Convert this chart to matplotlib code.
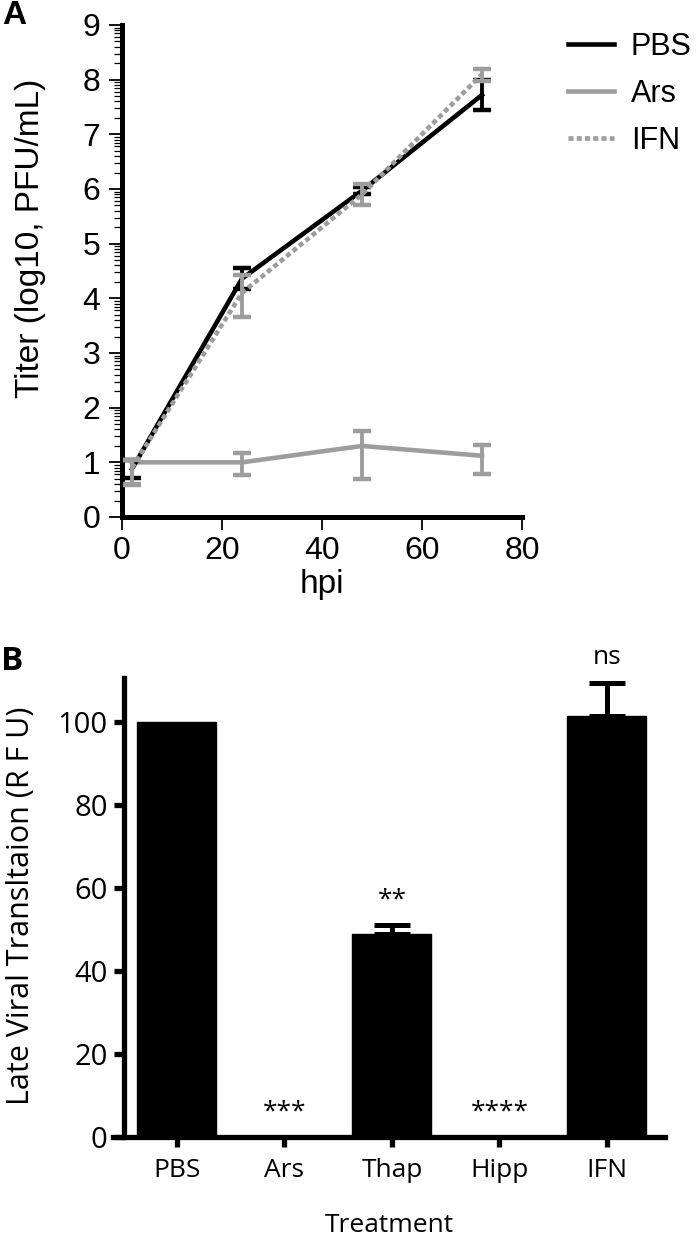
import numpy as np
import matplotlib
matplotlib.use("Agg")
import matplotlib.pyplot as plt
from matplotlib.lines import Line2D
from matplotlib.ticker import FixedLocator

# ---------------- data ----------------
# Panel A: virus growth curves
hpi = [2, 24, 48, 72]
pbs_mean = [0.88, 4.36, 5.97, 7.72]
pbs_low = [0.72, 4.17, 5.90, 7.45]
pbs_high = [1.04, 4.55, 6.03, 8.00]
ars_mean = [1.00, 1.00, 1.30, 1.12]
ars_low = [0.58, 0.76, 0.69, 0.79]
ars_high = [1.05, 1.17, 1.57, 1.31]
ifn_mean = [0.90, 4.10, 5.90, 8.10]
ifn_low = [0.60, 3.65, 5.70, 7.98]
ifn_high = [1.05, 4.42, 6.10, 8.20]
a_xticks = [0, 20, 40, 60, 80]
a_yticks = [0, 1, 2, 3, 4, 5, 6, 7, 8, 9]

# Panel B: late viral translation
treatments = ["PBS", "Ars", "Thap", "Hipp", "IFN"]
rfu = [100.0, 0.0, 48.8, 0.0, 101.5]
rfu_err = [0.0, 0.0, 2.3, 0.0, 8.0]
significance = ["", "***", "**", "****", "ns"]
b_yticks = [0, 20, 40, 60, 80, 100]

GRAY = "#9d9d9d"
W, H = 700, 1236
fig = plt.figure(figsize=(W / 100, H / 100), dpi=100)

ARIAL = ["Liberation Sans", "DejaVu Sans"]
MYRIAD = ["Open Sans", "DejaVu Sans"]

# ---------------- Panel A ----------------
axA = fig.add_axes([122 / W, (H - 517) / H, 400 / W, (517 - 25) / H])
lw = 3.3


def err(mean, low, high):
    m = np.array(mean); return [m - np.array(low), np.array(high) - m]


axA.errorbar(hpi, ars_mean, yerr=err(ars_mean, ars_low, ars_high), color=GRAY,
             lw=lw, elinewidth=2.8, capsize=6.5, capthick=3.2, clip_on=False, zorder=3)
axA.errorbar(hpi, pbs_mean, yerr=err(pbs_mean, pbs_low, pbs_high), color="black",
             lw=lw, elinewidth=2.8, capsize=6.5, capthick=3.2, clip_on=False, zorder=4)
eb = axA.errorbar(hpi, ifn_mean, yerr=err(ifn_mean, ifn_low, ifn_high), color=GRAY,
                  lw=lw, elinewidth=2.8, capsize=6.5, capthick=3.2, clip_on=False, zorder=5,
                  linestyle=(0, (1.1, 0.7)))
eb[0].set_dash_capstyle("butt")

axA.set_xlim(0, 80)
axA.set_ylim(0, 9)
axA.set_xticks(a_xticks)
axA.set_yticks(a_yticks)
minor = [n + np.log10(k) for n in range(9) for k in range(2, 10)]
axA.yaxis.set_minor_locator(FixedLocator(minor))
for s in ["top", "right"]:
    axA.spines[s].set_visible(False)
for s in ["left", "bottom"]:
    axA.spines[s].set_linewidth(3.6)
axA.tick_params(axis="both", which="major", direction="out", length=9.5, width=1.3,
                labelsize=23, pad=4)
axA.tick_params(axis="y", which="major", pad=6)
axA.tick_params(axis="y", which="minor", direction="out", length=5.5, width=0.9)
for lab in axA.get_xticklabels() + axA.get_yticklabels():
    lab.set_fontfamily(ARIAL)
axA.set_ylabel("Titer (log10, PFU/mL)", fontsize=24, family=ARIAL)
axA.yaxis.set_label_coords(-0.19, 0.567)
axA.set_xlabel("hpi", fontsize=24, family=ARIAL)
axA.xaxis.set_label_coords(0.5, -0.105)

handles = [Line2D([], [], color="black", lw=lw),
           Line2D([], [], color=GRAY, lw=lw),
           Line2D([], [], color=GRAY, lw=lw, linestyle=(0, (1.1, 0.7)))]
leg = fig.legend(handles, ["PBS", "Ars", "IFN"], loc="upper left",
                 bbox_to_anchor=(568 / W, 1 - 32 / H), frameon=False,
                 prop={"family": ARIAL, "size": 22}, handlelength=1.5,
                 handletextpad=0.55, labelspacing=0.55, borderpad=0, borderaxespad=0)

fig.text(2 / W, 1 - 15 / H, "A", fontsize=24, fontweight="bold", va="center", ha="left",
         family=["Liberation Sans Narrow", "Liberation Sans", "DejaVu Sans"])

# ---------------- Panel B ----------------
axB = fig.add_axes([113 / W, (H - 1137) / H, (665 - 113) / W, (1137 - 678) / H])
xpos = np.arange(len(treatments))
axB.bar(xpos, rfu, width=0.735, color="black", edgecolor="black", lw=1, zorder=2)
for x, v, e in zip(xpos, rfu, rfu_err):
    if e > 0:
        axB.errorbar([x], [v], yerr=[[0], [e]], color="black", elinewidth=3.6,
                     capsize=13, capthick=3.6, fmt="none", zorder=3, clip_on=False)
for x, v, e, s in zip(xpos, rfu, rfu_err, significance):
    if s:
        axB.text(x, v + e + 4.5, s, ha="center", va="baseline", fontsize=19,
                 family=MYRIAD, clip_on=False)

axB.set_xlim(-0.595, 4.54)
axB.set_ylim(0, 110.6)
axB.set_xticks(xpos)
axB.set_xticklabels(treatments)
axB.set_yticks(b_yticks)
for s in ["top", "right"]:
    axB.spines[s].set_visible(False)
axB.spines["left"].set_position(("data", -0.49))
for s in ["left", "bottom"]:
    axB.spines[s].set_linewidth(3.8)
axB.tick_params(axis="both", direction="out", length=7, width=3.8, pad=8)
axB.tick_params(axis="x", labelsize=19)
axB.tick_params(axis="y", labelsize=21, pad=5)
for lab in axB.get_xticklabels() + axB.get_yticklabels():
    lab.set_fontfamily(MYRIAD)
axB.set_ylabel("Late Viral Transltaion (R F U)", fontsize=22, family=MYRIAD)
axB.yaxis.set_label_coords(-0.14, 0.503)
axB.set_xlabel("Treatment", fontsize=19, family=MYRIAD)
axB.xaxis.set_label_coords(0.5, -0.165)

fig.text(1 / W, 1 - 662 / H, "B", fontsize=24, fontweight="bold", va="center", ha="left",
         family=MYRIAD)

fig.savefig("out.png", dpi=100)
